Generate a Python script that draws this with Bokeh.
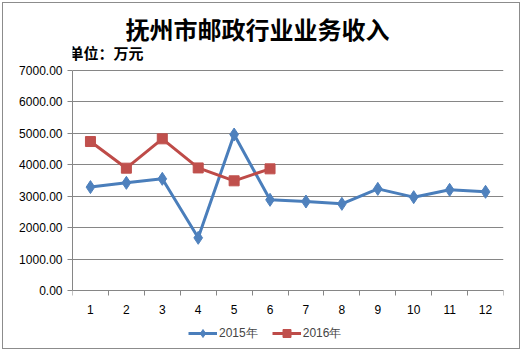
from bokeh.plotting import figure
from bokeh.models import (FixedTicker, NumeralTickFormatter, Label, Legend, LegendItem, Range1d)
from bokeh.embed import file_html
from bokeh.resources import INLINE

# ---- data ----
months = [1, 2, 3, 4, 5, 6, 7, 8, 9, 10, 11, 12]
tick_labels = [str(m) for m in months]
rev_2015 = [3290, 3425, 3553, 1676, 4963, 2885, 2831, 2757, 3234, 2970, 3203, 3140]
months_2016 = [1, 2, 3, 4, 5, 6]
rev_2016 = [4740, 3892, 4826, 3900, 3490, 3871]
y_ticks = [0, 1000, 2000, 3000, 4000, 5000, 6000, 7000]
title_text = "抚州市邮政行业业务收入"
unit_text = "单位：万元"
series_names = ["2015年", "2016年"]

# ---- layout (canvas px) ----
W, H = 518, 347
FL, FR = 69, 500          # frame left / right
PT, PB = 67, 287          # where 7000 and 0 sit vertically
AX_Y0, AX_Y1 = 0, 7000
X0, X1 = 0.5, 12.5
per_px = (AX_Y1 - AX_Y0) / (PB - PT)
Y_HI = AX_Y1 + PT * per_px
Y_LO = AX_Y0 - (H - PB) * per_px

BLUE = "#4A7EBB"
BLUE_M = "#4F81BD"
RED = "#BE4B48"
RED_M = "#C0504D"
GRID = "#868686"

p = figure(width=W, height=H, output_backend="svg", toolbar_location=None,
           x_range=Range1d(X0, X1), y_range=Range1d(Y_LO, Y_HI),
           min_border_left=FL, min_border_right=W - FR,
           min_border_top=0, min_border_bottom=0,
           styles={"margin": "2px", "border": "1px solid #8c8c8c"})
p.outline_line_color = None
p.background_fill_color = "white"
p.border_fill_color = "white"

# x axis pinned at y=0 (takes no panel space)
p.xaxis.fixed_location = 0
p.xaxis.ticker = FixedTicker(ticks=months, minor_ticks=[m - 0.5 for m in months] + [months[-1] + 0.5])
p.xaxis.major_label_overrides = {m: l for m, l in zip(months, tick_labels)}
p.xaxis.major_tick_out = 0
p.xaxis.major_tick_in = 0
p.xaxis.minor_tick_out = 5
p.xaxis.minor_tick_in = 0
p.xaxis.minor_tick_line_color = GRID
p.xaxis.axis_line_color = GRID
p.xaxis.major_label_standoff = 9

p.yaxis.ticker = FixedTicker(ticks=y_ticks, minor_ticks=[])
p.yaxis.bounds = (AX_Y0, AX_Y1)
p.yaxis.formatter = NumeralTickFormatter(format="0.00")
p.yaxis.major_tick_out = 5
p.yaxis.major_tick_in = 0
p.yaxis.major_tick_line_color = GRID
p.yaxis.axis_line_color = GRID
p.yaxis.major_label_standoff = 5

for ax in (p.xaxis, p.yaxis):
    ax.major_label_text_font = "Liberation Sans"
    ax.major_label_text_font_size = "12px"
    ax.major_label_text_color = "black"

p.xgrid.grid_line_color = None
p.ygrid.grid_line_color = GRID
p.ygrid.grid_line_width = 1
p.ygrid.ticker = FixedTicker(ticks=y_ticks)

# series
l1 = p.line(months, rev_2015, line_color=BLUE, line_width=3)
m1 = p.scatter(months, rev_2015, marker="diamond", size=13, fill_color=BLUE_M, line_color=BLUE_M)
l2 = p.line(months_2016, rev_2016, line_color=RED, line_width=3)
m2 = p.scatter(months_2016, rev_2016, marker="square", size=10, fill_color=RED_M, line_color=RED_M)

def dx(sx):
    return X0 + (sx - FL) / (FR - FL) * (X1 - X0)

def dy(sy):
    return AX_Y0 + (PB - sy) * per_px

p.add_layout(Label(x=dx(254), y=dy(25), text=title_text, text_align="center",
                   text_baseline="middle", text_font="Noto Sans CJK SC",
                   text_font_size="24px", text_font_style="bold", text_color="black"))
p.add_layout(Label(x=dx(65), y=dy(49), text=unit_text, text_align="left",
                   text_baseline="middle", text_font="Noto Sans CJK SC",
                   text_font_size="15px", text_font_style="bold", text_color="black"))

legend = Legend(items=[LegendItem(label=series_names[0], renderers=[l1, m1]),
                       LegendItem(label=series_names[1], renderers=[l2, m2])],
                orientation="horizontal", location=(185 - FL, H - 340),
                glyph_width=29, glyph_height=20, label_standoff=2, spacing=14,
                padding=0, margin=0, border_line_color=None, background_fill_alpha=0,
                label_text_font="Liberation Sans", label_text_font_size="12px")
p.add_layout(legend, "center")

open("out.html", "w").write(file_html(p, INLINE))
